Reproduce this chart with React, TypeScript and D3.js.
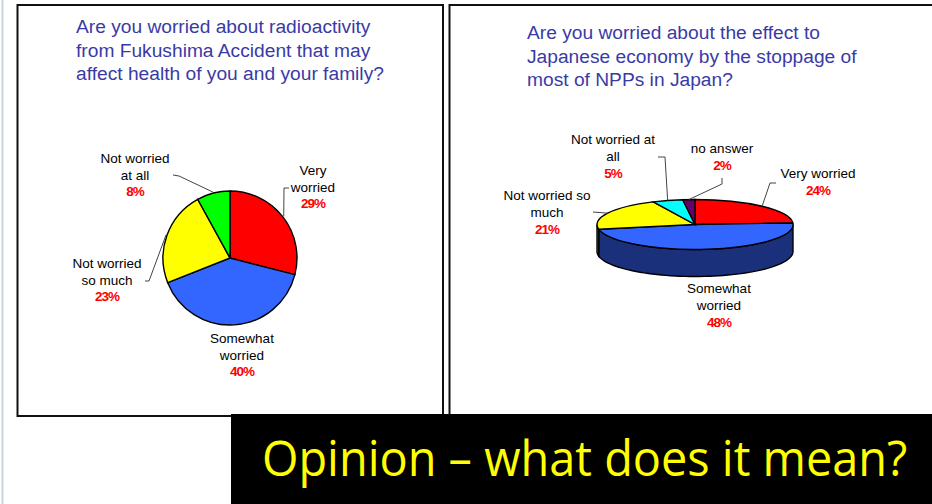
import React, { useLayoutEffect, useRef, useState } from "react";
import * as d3 from "d3";

// Survey 1: worry about radioactivity
const healthCategories = ["Very worried", "Somewhat worried", "Not worried so much", "Not worried at all"];
const healthValues = [29, 40, 23, 8];
const healthLabelLines = [["Very", "worried"], ["Somewhat", "worried"], ["Not worried", "so much"], ["Not worried", "at all"]];

// Survey 2: worry about the economy after the NPP stoppage
const economyCategories = ["Very worried", "Somewhat worried", "Not worried so much", "Not worried at all", "no answer"];
const economyValues = [24, 48, 21, 5, 2];
const economyLabelLines = [["Very worried"], ["Somewhat", "worried"], ["Not worried so", "much"], ["Not worried at", "all"], ["no answer"]];

const healthTitle = [
  "Are you worried about radioactivity",
  "from Fukushima Accident that may",
  "affect health of you and your family?",
];
const economyTitle = [
  "Are you worried about the effect to",
  "Japanese economy by the stoppage of",
  "most of NPPs in Japan?",
];
const caption = "Opinion \u2013 what does it mean?";

// Styles
const healthColors = ["#ff0000", "#3366ff", "#ffff00", "#00ff00"];
const economyTopColors = ["#ff0000", "#3366ff", "#ffff00", "#00ffff", "#660066"];
const economySideColors = ["#800000", "#1b307a", "#808000", "#008080", "#330033"];
const titleColor = "#3a3aa6";
const labelFont = "'Liberation Sans', Arial, sans-serif";

// Layout: label anchors (centre x, first baseline y) and leader elbows
const healthLabelPos = [[313, 175], [242, 343], [107, 268], [135, 163]];
const healthElbows: number[][][] = [[[289, 188], [284, 188]], [], [[145, 281], [149, 281]], [[173, 175], [179, 176]]];
const economyLabelPos = [[818, 178], [719, 293], [547, 200], [613, 144], [722, 153]];
const economyElbows: number[][][] = [[[776, 183], [770, 183]], [], [[593, 212]], [[658, 157], [665, 157]], [[722, 178], [722, 184]]];

function Label({ x, y, lines, value, lh }: { x: number; y: number; lines: string[]; value: number; lh: number }) {
  return (
    <g>
      {lines.map((l, i) => (
        <text key={i} x={x} y={y + i * lh} textAnchor="middle" fontFamily={labelFont} fontSize={13.5} fill="#000">
          {l}
        </text>
      ))}
      <text x={x} y={y + lines.length * lh} textAnchor="middle" fontFamily={labelFont} fontWeight="bold"
        fontSize={13.5} fill="#ff0000" letterSpacing={-1}>
        {value}%
      </text>
    </g>
  );
}

function FlatPie() {
  const cx = 230, cy = 258, r = 67;
  const arcs = d3.pie<number>().sort(null).value((d) => d)(healthValues);
  const arc = d3.arc<d3.PieArcDatum<number>>().innerRadius(0).outerRadius(r);
  const line = d3.line();
  return (
    <g>
      <g transform={`translate(${cx},${cy})`}>
        {arcs.map((a, i) => (
          <path key={healthCategories[i]} d={arc(a) || ""} fill={healthColors[i]} stroke="#000" strokeWidth={1.4} />
        ))}
      </g>
      {arcs.map((a, i) => {
        const elbows = healthElbows[i];
        if (!elbows.length) return null;
        const m = (a.startAngle + a.endAngle) / 2;
        const end: [number, number] = [cx + (r + 1) * Math.sin(m), cy - (r + 1) * Math.cos(m)];
        const pts = [...elbows.map((p) => [p[0], p[1]] as [number, number]), end];
        return <path key={"l" + i} d={line(pts) || ""} fill="none" stroke="#444" strokeWidth={1} />;
      })}
      {arcs.map((a, i) => (
        <Label key={"t" + i} x={healthLabelPos[i][0]} y={healthLabelPos[i][1]} lines={healthLabelLines[i]} value={healthValues[i]} lh={16.5} />
      ))}
    </g>
  );
}

function TiltedPie() {
  const cx = 695, cy = 224.5, rx = 98, ry = 25, depth = 27;
  const arcs = d3.pie<number>().sort(null).value((d) => d)(economyValues);
  const arc = d3.arc<d3.PieArcDatum<number>>().innerRadius(0).outerRadius(rx);
  const line = d3.line();
  const pt = (t: number, dy = 0): [number, number] => [cx + rx * Math.sin(t), cy - ry * Math.cos(t) + dy];

  const sides = arcs.map((a, i) => {
    const a0 = Math.max(a.startAngle, Math.PI / 2);
    const a1 = Math.min(a.endAngle, (3 * Math.PI) / 2);
    if (a1 <= a0) return null;
    const n = 60;
    const top = d3.range(n + 1).map((k) => pt(a0 + ((a1 - a0) * k) / n));
    const bottom = d3.range(n + 1).map((k) => pt(a1 - ((a1 - a0) * k) / n, depth));
    return (
      <path key={"s" + i} d={(line([...top, ...bottom]) || "") + "Z"} fill={economySideColors[i]} stroke="#000" strokeWidth={1.4} />
    );
  });

  return (
    <g>
      {sides}
      <g transform={`translate(${cx},${cy}) scale(1,${ry / rx})`}>
        {arcs.map((a, i) => (
          <path key={economyCategories[i]} d={arc(a) || ""} fill={economyTopColors[i]} stroke="#000" strokeWidth={1.4}
            vectorEffect="non-scaling-stroke" />
        ))}
      </g>
      {arcs.map((a, i) => {
        const elbows = economyElbows[i];
        if (!elbows.length) return null;
        const m = (a.startAngle + a.endAngle) / 2;
        const pts = [...elbows.map((p) => [p[0], p[1]] as [number, number]), pt(m)];
        return <path key={"l" + i} d={line(pts) || ""} fill="none" stroke="#444" strokeWidth={1} />;
      })}
      {arcs.map((a, i) => (
        <Label key={"t" + i} x={economyLabelPos[i][0]} y={economyLabelPos[i][1]} lines={economyLabelLines[i]} value={economyValues[i]} lh={17} />
      ))}
    </g>
  );
}

// Caption set in a condensed style: measured, then squeezed horizontally to fit its box
function Caption() {
  const ref = useRef<SVGTextElement>(null);
  const [sx, setSx] = useState(0.87);
  const x0 = 262, width = 645;
  useLayoutEffect(() => {
    if (ref.current) {
      const w = ref.current.getComputedTextLength();
      if (w > 0) setSx(width / w);
    }
  }, []);
  return (
    <g transform={`translate(${x0},476) scale(${sx},1)`}>
      <text ref={ref} x={0} y={0} fontFamily="'Open Sans', 'Noto Sans', sans-serif" fontSize={49} fill="#ffff00">
        {caption}
      </text>
    </g>
  );
}

export default function App() {
  return (
    <svg width={932} height={504} style={{ position: "absolute", left: 0, top: 0, background: "#fff" }}
      xmlns="http://www.w3.org/2000/svg">
      <rect x={0} y={0} width={932} height={504} fill="#fff" />
      <line x1={2.5} y1={0} x2={2.5} y2={504} stroke="#c9d4dc" strokeWidth={2} />

      {/* panel frames */}
      <rect x={17.5} y={5} width={425.5} height={411} fill="none" stroke="#111" strokeWidth={2} />
      <rect x={449.5} y={5} width={490} height={520} fill="none" stroke="#111" strokeWidth={2} />

      {healthTitle.map((t, i) => (
        <text key={"ht" + i} x={76} y={33.3 + i * 23.5} fontFamily={labelFont} fontSize={19.2} fill={titleColor}>
          {t}
        </text>
      ))}
      {economyTitle.map((t, i) => (
        <text key={"et" + i} x={527} y={39 + i * 23.5} fontFamily={labelFont} fontSize={19.2} fill={titleColor}>
          {t}
        </text>
      ))}

      <FlatPie />
      <TiltedPie />

      <rect x={231} y={414} width={701} height={90} fill="#000" />
      <Caption />
    </svg>
  );
}
